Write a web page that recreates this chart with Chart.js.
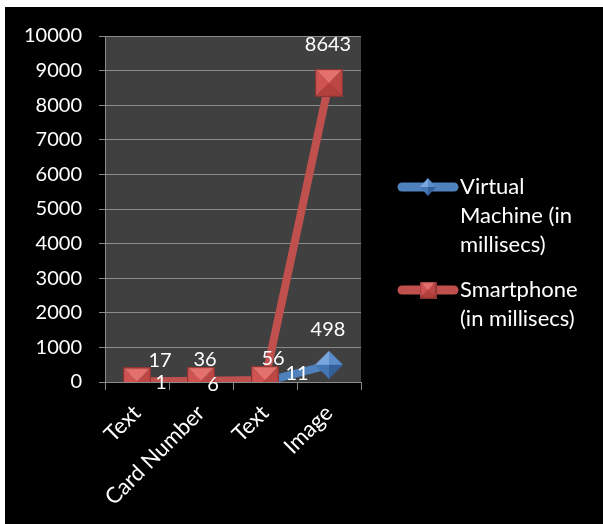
<!DOCTYPE html>
<html>
<head>
<meta charset="utf-8">
<script src="https://cdn.jsdelivr.net/npm/chart.js@4"></script>
<style>
html,body{margin:0;padding:0;background:#fff;}
#wrap{width:603px;height:524px;}
</style>
</head>
<body>
<div id="wrap"><canvas id="c" width="603" height="524"></canvas></div>
<script>
// ---- data ----
const categories = ["Text", "Card Number", "Text", "Image"];
const virtualMachine = [1, 6, 11, 498];
const smartphone = [17, 36, 56, 8643];
const seriesNames = [["Virtual", "Machine (in", "millisecs)"], ["Smartphone", "(in millisecs)"]];
const yTicks = [0, 1000, 2000, 3000, 4000, 5000, 6000, 7000, 8000, 9000, 10000];

// ---- styles ----
const FONT = "Lato, 'Open Sans', sans-serif";
const BLUE = "#4F81BD";
const RED = "#C0504D";
const GRID = "#8a8a8a";
const vmLabelOffsets = [[24, 1], [12, 3], [32, -8], [-1, -35]];
const spLabelOffsets = [[23, -21], [4, -21], [8, -22], [-1, -38]];

function makeSquare(s) {
  const c = document.createElement('canvas');
  c.width = s; c.height = s;
  const g = c.getContext('2d');
  const m = s / 2;
  const faces = [
    [[0,0],[s,0],[m,m], "#e4716d"],
    [[0,0],[0,s],[m,m], "#cf5350"],
    [[s,0],[s,s],[m,m], "#bd4744"],
    [[0,s],[s,s],[m,m], "#b23f3c"]
  ];
  faces.forEach(f => {
    g.beginPath(); g.moveTo(f[0][0], f[0][1]); g.lineTo(f[1][0], f[1][1]); g.lineTo(f[2][0], f[2][1]); g.closePath();
    g.fillStyle = f[3]; g.fill();
  });
  g.strokeStyle = "#8e3533"; g.lineWidth = 1.2;
  g.strokeRect(0.6, 0.6, s - 1.2, s - 1.2);
  return c;
}
function makeDiamond(w, h) {
  const c = document.createElement('canvas');
  c.width = w; c.height = h;
  const g = c.getContext('2d');
  const mx = w / 2, my = h / 2;
  const faces = [
    [[mx,0],[0,my],[mx,my], "#79a6de"],
    [[mx,0],[w,my],[mx,my], "#5a8cc9"],
    [[0,my],[mx,h],[mx,my], "#4576b3"],
    [[w,my],[mx,h],[mx,my], "#33609a"]
  ];
  faces.forEach(f => {
    g.beginPath(); g.moveTo(f[0][0], f[0][1]); g.lineTo(f[1][0], f[1][1]); g.lineTo(f[2][0], f[2][1]); g.closePath();
    g.fillStyle = f[3]; g.fill();
  });
  return c;
}
const sqBig = makeSquare(28), sqSmall = makeSquare(17);
const diBig = makeDiamond(28, 28), diSmall = makeDiamond(16, 18);

const bgPlugin = {
  id: 'bg',
  beforeDraw(chart) {
    const ctx = chart.ctx, a = chart.chartArea;
    ctx.save();
    ctx.fillStyle = "#ffffff"; ctx.fillRect(0, 0, chart.width, chart.height);
    ctx.fillStyle = "#000000"; ctx.fillRect(5, 7, chart.width - 5, chart.height - 7);
    ctx.fillStyle = "#404040"; ctx.fillRect(a.left, a.top, a.right - a.left, a.bottom - a.top);
    ctx.restore();
  }
};

const labelPlugin = {
  id: 'dlabels',
  afterDatasetsDraw(chart) {
    const ctx = chart.ctx;
    ctx.save();
    ctx.font = "20px " + FONT;
    ctx.fillStyle = "#ffffff";
    ctx.textAlign = "center";
    ctx.textBaseline = "middle";
    [[0, vmLabelOffsets], [1, spLabelOffsets]].forEach(([di, offs]) => {
      const meta = chart.getDatasetMeta(di);
      meta.data.forEach((pt, i) => {
        ctx.fillText(String(chart.data.datasets[di].data[i]), pt.x + offs[i][0], pt.y + offs[i][1]);
      });
    });
    ctx.restore();
  }
};

const legendPlugin = {
  id: 'customLegend',
  afterDraw(chart) {
    const ctx = chart.ctx;
    ctx.save();
    const items = [
      {color: BLUE, img: diSmall, y: 187, lines: seriesNames[0]},
      {color: RED, img: sqSmall, y: 290, lines: seriesNames[1]}
    ];
    items.forEach(it => {
      ctx.strokeStyle = it.color; ctx.lineWidth = 9; ctx.lineCap = "round";
      ctx.beginPath(); ctx.moveTo(402, it.y); ctx.lineTo(454, it.y); ctx.stroke();
      ctx.drawImage(it.img, 428 - it.img.width / 2, it.y - it.img.height / 2);
      ctx.font = "22px " + FONT; ctx.fillStyle = "#ffffff";
      ctx.textAlign = "left"; ctx.textBaseline = "middle";
      it.lines.forEach((t, k) => ctx.fillText(t, 460, it.y + k * 29));
    });
    ctx.restore();
  }
};

new Chart(document.getElementById('c'), {
  type: 'line',
  data: {
    labels: categories,
    datasets: [
      {label: seriesNames[0].join(' '), data: virtualMachine, borderColor: BLUE, backgroundColor: BLUE,
       borderWidth: 8, pointStyle: diBig, order: 1, tension: 0, borderCapStyle: 'round', borderJoinStyle: 'round'},
      {label: seriesNames[1].join(' '), data: smartphone, borderColor: RED, backgroundColor: RED,
       borderWidth: 8, pointStyle: sqBig, order: 0, tension: 0, borderCapStyle: 'round', borderJoinStyle: 'round'}
    ]
  },
  options: {
    responsive: false,
    animation: false,
    layout: {padding: {left: 5, top: 36, right: 242, bottom: 0}},
    plugins: {legend: {display: false}, tooltip: {enabled: false}},
    scales: {
      x: {
        offset: true,
        grid: {display: true, offset: true, drawOnChartArea: false, drawTicks: true, tickLength: 8, color: GRID, lineWidth: 1},
        border: {display: true, color: GRID, width: 1},
        ticks: {color: "#ffffff", font: {family: FONT, size: 22}, maxRotation: 45, minRotation: 45, padding: 10},
        afterFit(s) { s.height = 142; }
      },
      y: {
        min: 0, max: 10000,
        afterBuildTicks(s) { s.ticks = yTicks.map(v => ({value: v})); },
        grid: {color: GRID, lineWidth: 1, tickLength: 6},
        border: {display: true, color: GRID, width: 1},
        ticks: {color: "#ffffff", font: {family: FONT, size: 20}, padding: 17, callback: v => String(v)},
        afterFit(s) { s.width = 100; }
      }
    }
  },
  plugins: [bgPlugin, labelPlugin, legendPlugin]
});
</script>
</body>
</html>
